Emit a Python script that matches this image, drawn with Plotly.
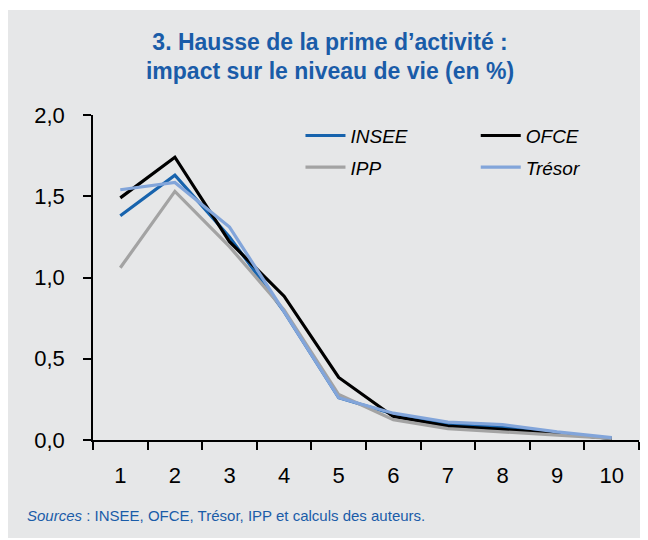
import plotly.graph_objects as go

deciles = ["1", "2", "3", "4", "5", "6", "7", "8", "9", "10"]
insee = [1.38, 1.63, 1.25, 0.79, 0.26, 0.16, 0.10, 0.08, 0.04, 0.01]
ofce = [1.49, 1.74, 1.22, 0.885, 0.385, 0.145, 0.085, 0.065, 0.04, 0.01]
ipp = [1.06, 1.53, 1.19, 0.80, 0.28, 0.125, 0.07, 0.05, 0.03, 0.01]
tresor = [1.54, 1.585, 1.31, 0.79, 0.26, 0.165, 0.11, 0.095, 0.05, 0.015]

y_ticks = [0, 0.5, 1.0, 1.5, 2.0]
y_labels = ["0,0", "0,5", "1,0", "1,5", "2,0"]

BLUE = "#1a5ca8"
BG = "#e6e7e8"
FONT = "Liberation Sans"

series = [
    ("INSEE", insee, "#1763ad", "legend"),
    ("OFCE", ofce, "#000000", "legend2"),
    ("IPP", ipp, "#a3a3a3", "legend"),
    ("Trésor", tresor, "#82a5da", "legend2"),
]

fig = go.Figure()
for name, vals, color, leg in series:
    fig.add_trace(go.Scatter(
        x=deciles, y=vals, name=name, mode="lines",
        line=dict(color=color, width=3.2),
        legend=leg, legendgroup=name,
    ))

legend_style = dict(
    bgcolor="rgba(0,0,0,0)",
    font=dict(family=FONT, size=19, color="#000000", style="italic"),
    tracegroupgap=4, itemwidth=40,
    yanchor="top", xanchor="left",
)
# page is offset by the 8px body margin, so margins are set 8px short
fig.update_layout(
    width=648, height=540,
    paper_bgcolor="white",
    plot_bgcolor=BG,
    margin=dict(l=85, r=17, t=107, b=108),
    font=dict(family=FONT, size=22, color="#000000"),
    showlegend=True,
    legend=dict(x=0.38, y=0.995, **legend_style),
    legend2=dict(x=0.701, y=0.995, **legend_style),
    title=dict(
        text="3. Hausse de la prime d’activité :<br>impact sur le niveau de vie (en %)",
        x=0.497, xanchor="center", y=0.923, yanchor="middle",
        font=dict(family=FONT, size=23, color=BLUE, weight="bold"),
    ),
    xaxis=dict(
        type="category", range=[-0.5, 9.5],
        showline=True, linecolor="#000000", linewidth=1.5,
        ticks="outside", tickson="boundaries", ticklen=8,
        tickcolor="#000000", tickwidth=1.5,
        showgrid=False, zeroline=False,
        tickfont=dict(size=22), ticklabelstandoff=15,
    ),
    yaxis=dict(
        range=[0, 2.0], tickvals=y_ticks, ticktext=y_labels,
        showline=True, linecolor="#000000", linewidth=1.5,
        ticks="outside", ticklen=8, tickcolor="#000000", tickwidth=1.5,
        showgrid=False, zeroline=False,
        tickfont=dict(size=22), ticklabelstandoff=14,
    ),
    shapes=[dict(
        type="rect", xref="paper", yref="paper", layer="below",
        x0=-85 / 546, x1=1.1, y0=-0.3015, y1=1.323,
        fillcolor=BG, line=dict(width=0),
    )],
    annotations=[dict(
        text="<i>Sources</i> : INSEE, OFCE, Trésor, IPP et calculs des auteurs.",
        xref="paper", yref="paper", x=-0.1245, y=-0.2308,
        xanchor="left", yanchor="middle", showarrow=False,
        font=dict(family=FONT, size=15, color=BLUE),
    )],
)

fig.write_html("out.html")
